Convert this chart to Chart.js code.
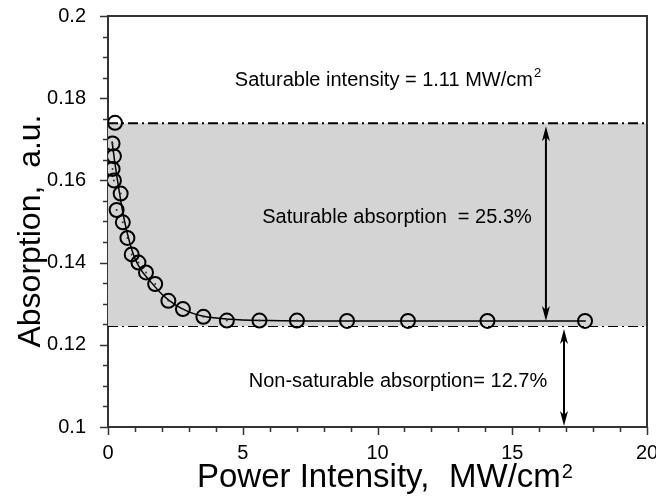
<!DOCTYPE html>
<html><head><meta charset="utf-8">
<script src="https://cdn.jsdelivr.net/npm/chart.js@4/dist/chart.umd.min.js"></script>
<style>html,body{margin:0;padding:0;background:#fff;}#wrap{width:656px;height:499px;}</style>
</head><body><div id="wrap"><canvas id="c" width="656" height="499"></canvas></div>
<script>
// ---- data ----
const powerIntensity = [0.26,0.17,0.22,0.17,0.22,0.47,0.32,0.55,0.72,0.88,1.13,1.41,1.75,2.24,2.78,3.54,4.41,5.62,7.01,8.87,11.13,14.08,17.70];
const absorption     = [0.1740,0.1690,0.1659,0.1628,0.1600,0.1568,0.1528,0.1498,0.1460,0.1420,0.1400,0.1376,0.1348,0.1307,0.1287,0.1268,0.1259,0.1259,0.1259,0.1258,0.1258,0.1258,0.1258];
const fitIntensity   = [0.15,0.25,0.4,0.6,0.8,1.0,1.25,1.5,2.0,2.5,3.0,3.5,4.5,6.0,8.0,12.0,17.7];
const fitAbsorption  = [0.1695,0.1645,0.1580,0.1505,0.1450,0.1410,0.1380,0.1360,0.1323,0.1297,0.1280,0.1270,0.1262,0.1259,0.1258,0.1258,0.1258];
const saturatedLevel = 0.1739;
const nonSaturableLevel = 0.1246;
const xTickLabels = ['0','5','10','15','20'];
const yTickLabels = ['0.1','0.12','0.14','0.16','0.18','0.2'];
const xRange = [0, 20];
const yRange = [0.1, 0.2];
const arrowUpperX = 16.25;
const arrowLowerX = 16.92;
const labelIntensity = 'Saturable intensity = 1.11 MW/cm';
const labelSaturable = 'Saturable absorption  = 25.3%';
const labelNonSat = 'Non-saturable absorption= 12.7%';
const xTitleA = 'Power Intensity,';
const xTitleB = 'MW/cm';
const yTitle = 'Absorption,  a.u.';

const FONT = "'Liberation Sans', Arial, sans-serif";
const pts = (xs, ys) => xs.map((x, i) => ({x, y: ys[i]}));
const DASHDOT = [10,4,2,4];

const decor = {
  id: 'decor',
  afterDatasetsDraw(chart) {
    const {ctx, scales:{x, y}} = chart;
    ctx.save();
    ctx.strokeStyle = '#000'; ctx.fillStyle = '#000'; ctx.lineWidth = 2;
    const head = (px, tip, dir) => { // dir: -1 up, 1 down
      ctx.beginPath(); ctx.moveTo(px, tip);
      ctx.lineTo(px - 4, tip - dir*15); ctx.lineTo(px, tip - dir*11); ctx.lineTo(px + 4, tip - dir*15);
      ctx.closePath(); ctx.fill();
    };
    const varrow = (xv, y1v, y2v, g1, g2) => {
      const px = x.getPixelForValue(xv);
      const t = y.getPixelForValue(y1v) + g1, b = y.getPixelForValue(y2v) - g2;
      ctx.beginPath(); ctx.moveTo(px, t + 8); ctx.lineTo(px, b - 8); ctx.stroke();
      head(px, t, -1); head(px, b, 1);
    };
    varrow(arrowUpperX, saturatedLevel, nonSaturableLevel, 3, 5);
    varrow(arrowLowerX, nonSaturableLevel, yRange[0], 3, 1);
    // annotations
    ctx.font = '20px ' + FONT; ctx.textBaseline = 'alphabetic';
    ctx.textAlign = 'left';
    const w1 = ctx.measureText(labelIntensity).width;
    ctx.font = '13px ' + FONT; const ws = ctx.measureText('2').width;
    let cx = 388 - (w1 + ws + 1) / 2;
    ctx.font = '20px ' + FONT; ctx.fillText(labelIntensity, cx, 86);
    ctx.font = '13px ' + FONT; ctx.fillText('2', cx + w1 + 1, 77);
    ctx.font = '20px ' + FONT; ctx.textAlign = 'center';
    ctx.fillText(labelSaturable, 397, 223);
    ctx.fillText(labelNonSat, 398, 387);
    ctx.restore();
  },
  afterDraw(chart) {
    const {ctx, chartArea:a, scales:{x, y}} = chart;
    ctx.save();
    ctx.strokeStyle = '#333'; ctx.lineWidth = 2;
    ctx.beginPath();
    ctx.moveTo(a.left, a.top); ctx.lineTo(a.right, a.top); ctx.lineTo(a.right, a.bottom);
    ctx.stroke();
    ctx.lineWidth = 1.5;
    for (let v = xRange[0]; v <= xRange[1] + 1e-9; v += 1) {
      const px = Math.round(x.getPixelForValue(v)) + 0.5;
      const len = (Math.round(v) % 5 === 0) ? 8 : 5;
      ctx.beginPath(); ctx.moveTo(px, a.bottom); ctx.lineTo(px, a.bottom + len); ctx.stroke();
    }
    for (let k = 0; k <= 20; k++) {
      const v = yRange[0] + k * 0.005;
      const py = Math.round(y.getPixelForValue(v)) + 0.5;
      const len = (k % 4 === 0) ? 8 : 5;
      ctx.beginPath(); ctx.moveTo(a.left, py); ctx.lineTo(a.left - len, py); ctx.stroke();
    }
    // axis titles
    ctx.fillStyle = '#000';
    ctx.font = '33px ' + FONT; ctx.textBaseline = 'alphabetic'; ctx.textAlign = 'left';
    ctx.fillText(xTitleA, 197, 487);
    const wB = ctx.measureText(xTitleB).width;
    ctx.fillText(xTitleB, 449, 487);
    ctx.font = '20px ' + FONT; ctx.fillText('2', 449 + wB + 1, 478);
    ctx.save();
    ctx.translate(40, 231); ctx.rotate(-Math.PI/2);
    ctx.font = '32px ' + FONT; ctx.textAlign = 'center';
    ctx.fillText(yTitle, 0, 0);
    ctx.restore();
    ctx.restore();
  }
};

new Chart(document.getElementById('c'), {
  type: 'scatter',
  data: {
    datasets: [
      { label: 'non-saturable level', type: 'line', data: pts(xRange, [nonSaturableLevel, nonSaturableLevel]),
        borderColor: '#000', borderWidth: 2, borderDash: DASHDOT, pointRadius: 0, fill: false, order: 5 },
      { label: 'saturated level', type: 'line', data: pts(xRange, [saturatedLevel, saturatedLevel]),
        borderColor: '#000', borderWidth: 2, borderDash: DASHDOT, pointRadius: 0,
        fill: 0, backgroundColor: '#d4d4d4', order: 4 },
      { label: 'fit', type: 'line', data: pts(fitIntensity, fitAbsorption),
        borderColor: '#000', borderWidth: 1.5, pointRadius: 0, fill: false, tension: 0.4,
        cubicInterpolationMode: 'monotone', order: 2 },
      { label: 'measured', data: pts(powerIntensity, absorption), showLine: false,
        pointStyle: 'circle', pointRadius: 7, pointBorderWidth: 2, borderColor: '#000',
        backgroundColor: 'rgba(0,0,0,0)', pointBackgroundColor: 'rgba(0,0,0,0)', order: 1 },
      { label: 'centers', data: pts(powerIntensity, absorption), showLine: false,
        pointRadius: 1, pointBorderWidth: 0, pointBackgroundColor: '#333', order: 0 }
    ]
  },
  options: {
    responsive: false, animation: false,
    layout: { padding: { top: 16, right: 9, left: 0, bottom: 0 } },
    plugins: { legend: { display: false }, tooltip: { enabled: false } },
    scales: {
      x: {
        type: 'linear', min: xRange[0], max: xRange[1],
        grid: { display: false }, border: { display: true, color: '#333', width: 2 },
        ticks: { stepSize: 5, padding: 6, color: '#000', font: { size: 20, family: FONT },
          maxRotation: 0, callback: (v, i) => xTickLabels[i] },
        afterFit: s => { s.height = 72; s.paddingLeft = 0; s.paddingRight = 0; }
      },
      y: {
        type: 'linear', min: yRange[0], max: yRange[1],
        grid: { display: false }, border: { display: true, color: '#333', width: 2 },
        ticks: { stepSize: 0.02, padding: 14, color: '#000', font: { size: 20, family: FONT },
          callback: (v, i) => yTickLabels[i] },
        afterFit: s => { s.width = 108; s.paddingTop = 0; s.paddingBottom = 0; }
      }
    }
  },
  plugins: [decor]
});
</script></body></html>
